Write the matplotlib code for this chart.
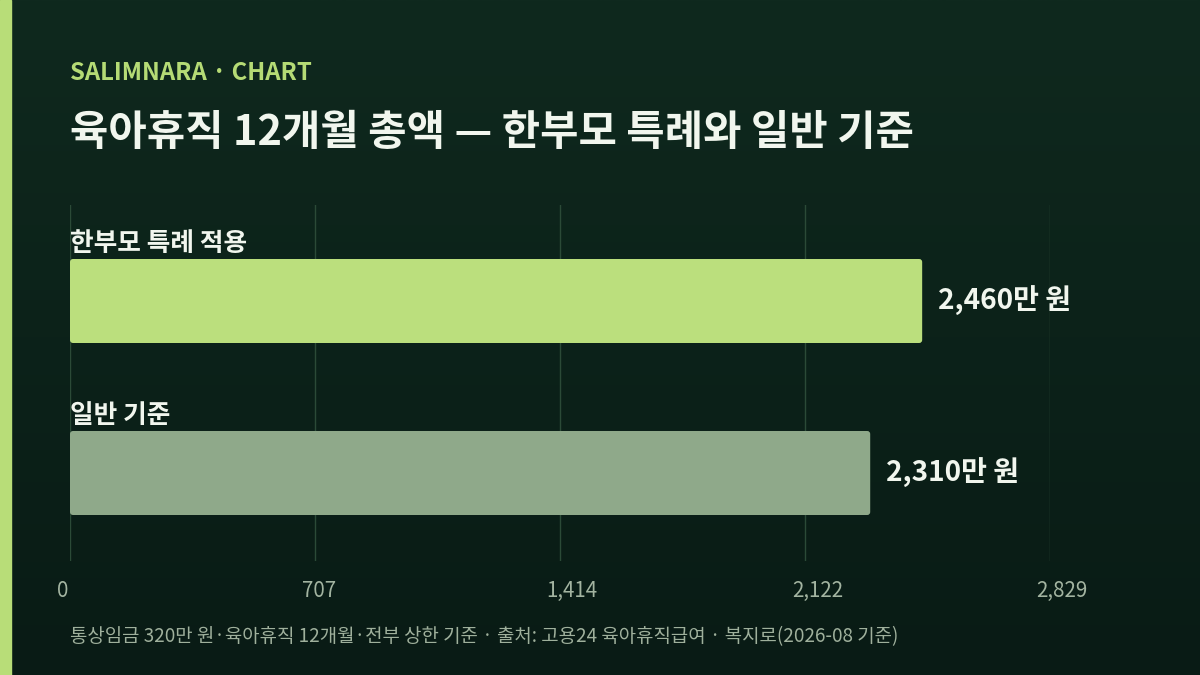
import matplotlib
matplotlib.use("Agg")
import matplotlib.pyplot as plt
import numpy as np
from matplotlib.patches import FancyBboxPatch
from matplotlib.transforms import ScaledTranslation

plt.rcParams['font.family'] = ['Noto Sans CJK KR', 'DejaVu Sans']

categories = ["한부모 특례 적용", "일반 기준"]
values = [2460, 2310]
value_labels = ["2,460만 원", "2,310만 원"]
bar_colors = ["#bbdf7d", "#8fa98a"]
xticks = [0, 707, 1414, 2122, 2829]
xtick_labels = ["0", "707", "1,414", "2,122", "2,829"]

kicker = "SALIMNARA · CHART"
title = "육아휴직 12개월 총액 — 한부모 특례와 일반 기준"
footer = "통상임금 320만 원·육아휴직 12개월·전부 상한 기준 · 출처: 고용24 육아휴직급여 · 복지로(2026-08 기준)"

W, H = 1200, 675
fig = plt.figure(figsize=(W / 100, H / 100), dpi=100)

# background gradient
bg = fig.add_axes([0, 0, 1, 1], zorder=-10)
top = np.array([0x0f, 0x29, 0x1e]) / 255
bot = np.array([0x09, 0x1b, 0x15]) / 255
t = np.linspace(0, 1, 256)[:, None]
grad = top[None, :] * (1 - t) + bot[None, :] * t
bg.imshow(grad[:, None, :].repeat(2, axis=1), aspect='auto', extent=[0, 1, 0, 1])
bg.set_xlim(0, 1); bg.set_ylim(0, 1)
bg.axis('off')
# left accent strip
bg.add_patch(plt.Rectangle((0, 0), 11 / W, 1, color="#b8dd78", transform=bg.transAxes))

# main axes
ax_left, ax_right = 70, 1050
ax_top, ax_bot = 205, 561
ax = fig.add_axes([ax_left / W, 1 - ax_bot / H, (ax_right - ax_left) / W, (ax_bot - ax_top) / H])
ax.set_facecolor('none')

pos = np.arange(len(categories))
unit_px = 172.0
bar_h = 84 / unit_px
bars = ax.barh(pos, values, height=bar_h, color=bar_colors, zorder=3)
ax.set_xlim(0, xticks[-1])
ax.set_ylim(1 + (561 - 473) / unit_px, -(301 - 205) / unit_px)

# rounded bars
xu_per_px = xticks[-1] / (ax_right - ax_left)
yu_per_px = 1 / unit_px
for b, c in zip(bars, bar_colors):
    x0, y0, w, h = b.get_x(), b.get_y(), b.get_width(), b.get_height()
    b.set_visible(False)
    p = FancyBboxPatch((x0, y0), w, h,
                       boxstyle=f"round,pad=0,rounding_size={3 * xu_per_px}",
                       mutation_aspect=yu_per_px / xu_per_px,
                       facecolor=c, edgecolor='none', zorder=3)
    ax.add_patch(p)

for i, (v, lab, cat) in enumerate(zip(values, value_labels, categories)):
    ax.text(v + 16 * xu_per_px, i, lab, va='center', ha='left',
            fontsize=20.2, fontweight='bold', color='#f1f6ee', zorder=4)
    ax.text(0, i - bar_h / 2 - 2 * yu_per_px, cat, va='bottom', ha='left',
            fontsize=18.5, fontweight='bold', color='#f1f6ee', zorder=4)

ax.set_xticks(xticks)
ax.set_xticklabels(xtick_labels)
ax.set_yticks([])
ax.tick_params(axis='x', length=0, pad=14, labelsize=14.8, labelcolor='#a3b4a1')
shift = ScaledTranslation(-13.3 / 100, 0, fig.dpi_scale_trans)
for lbl in ax.get_xticklabels():
    lbl.set_horizontalalignment('left')
    lbl.set_transform(lbl.get_transform() + shift)
ax.grid(axis='x', color='#2b4a37', linewidth=1, zorder=0)
for s in ax.spines.values():
    s.set_visible(False)

fig.text(70 / W, 1 - 73 / H, kicker, fontsize=17.2, fontweight='bold',
         color='#b5db75', va='center', ha='left')
fig.text(70 / W, 1 - 133 / H, title, fontsize=30, fontweight='bold',
         color='#f1f6ee', va='center', ha='left')
fig.text(70 / W, 1 - 637 / H, footer, fontsize=13.6, color='#9fb09c',
         va='center', ha='left')

fig.savefig("out.png", dpi=100)
